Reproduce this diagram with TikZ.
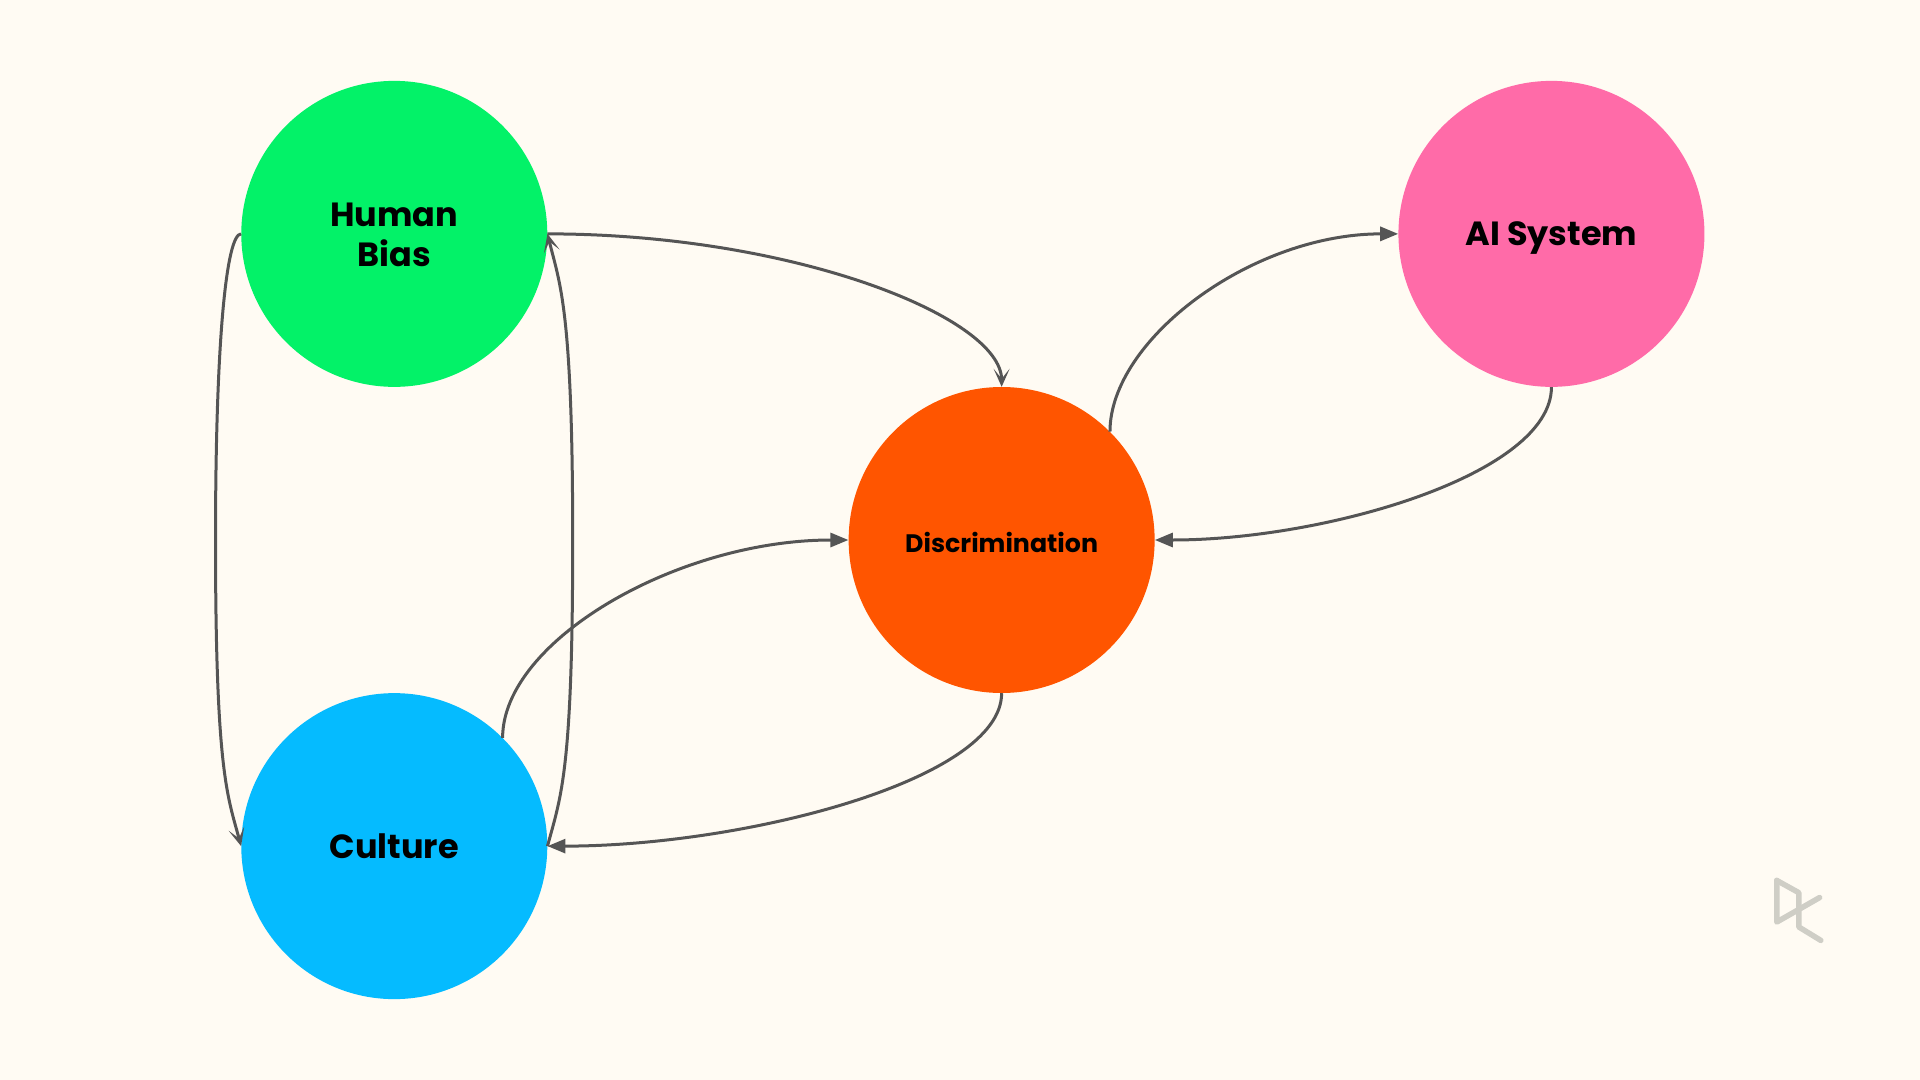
\documentclass[tikz,border=0pt]{standalone}
\usepackage{fontspec}
\setmainfont{Poppins}[BoldFont={Poppins Bold}]
\usetikzlibrary{arrows.meta}
\definecolor{bgc}{HTML}{FFFBF3}
\definecolor{hbc}{HTML}{03F268}
\definecolor{aic}{HTML}{FF6BA8}
\definecolor{dic}{HTML}{FF5500}
\definecolor{cuc}{HTML}{05BBFF}
\definecolor{edgec}{HTML}{555555}
\definecolor{logoc}{HTML}{CFCEC6}
\newcommand{\lowered}[2]{\raisebox{-#1}[\height][\depth]{#2}}
\tikzset{
  blob/.style={circle,minimum size=306pt,inner sep=0pt,align=center,font=\fontsize{33.5}{39.5}\selectfont\bfseries,text=black},
  link/.style={draw=edgec,line width=3pt},
  solidhead/.style={-{Triangle[length=18pt,width=14pt]}},
  barbhead/.style={-{Stealth[length=18pt,width=16pt,inset=10pt]}},
  logoline/.style={draw=logoc,line width=5.5pt,line join=round,line cap=round}
}
\begin{document}
\begin{tikzpicture}[x=1.22449pt,y=-1.22449pt]
\fill[bgc] (0,0) rectangle (1568,882);
\useasboundingbox (0,0) rectangle (1568,882);
\node[blob,fill=hbc] (hb) at (322,191) {\lowered{1.2pt}{Human}\\\lowered{1.2pt}{Bias}};
\node[blob,fill=aic,text depth=0pt] (ai) at (1267,191) {AI System};
\node[blob,fill=dic,font=\fontsize{25.3}{30}\selectfont\bfseries] (di) at (818,441) {\lowered{2.4pt}{Discrimination}};
\node[blob,fill=cuc] (cu) at (322,691) {Culture};
\coordinate (lm) at (176,441);
\coordinate (rm) at (467.7,441);
\draw[link,barbhead] (hb.east) .. controls +(200,0) and +(0,-57) .. (di.north);
\draw[link,solidhead] (di.north east) .. controls +(0,-75) and +(-120,0) .. (ai.west);
\draw[link,solidhead] (ai.south) .. controls +(0,71) and +(140,0) .. (di.east);
\draw[link,solidhead] (cu.north east) .. controls +(0,-79) and +(-140,0) .. (di.west);
\draw[link,solidhead] (di.south) .. controls +(0,71) and +(160,0) .. (cu.east);
\draw[link,barbhead] (hb.west) .. controls +(-12,0) and +(0,-163) .. (lm) .. controls +(0,190) and +(-11,-41) .. (cu.west);
\draw[link,barbhead] (cu.east) .. controls +(11,-41) and +(0,190) .. (rm) .. controls +(0,-190) and +(10,41) .. (hb.east);
\draw[logoline] (1451,719) -- (1451,753) -- (1486,733);
\draw[logoline] (1451,719) -- (1469,729) -- (1469,757) -- (1487,768);
\end{tikzpicture}
\end{document}
